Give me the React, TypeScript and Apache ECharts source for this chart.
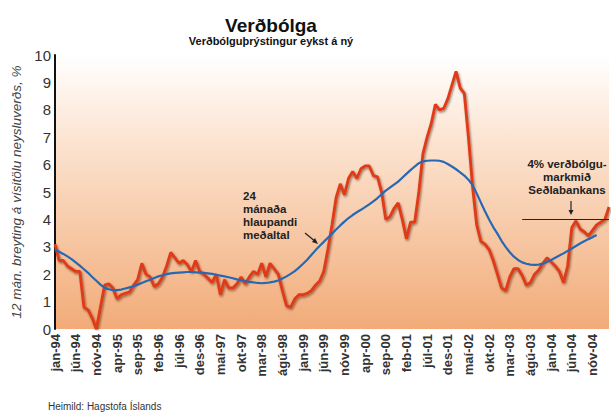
import React, { useEffect, useRef } from "react";
import * as echarts from "echarts";

const monthNames = ["jan", "feb", "mar", "apr", "maí", "jún", "júl", "ágú", "sep", "okt", "nóv", "des"];
const years = ["94", "95", "96", "97", "98", "99", "00", "01", "02", "03", "04", "05"];
const monthCount = 135; // jan-94 .. mar-05

const categories: string[] = [];
for (let i = 0; i < monthCount; i++) {
  categories.push(monthNames[i % 12] + "-" + years[Math.floor(i / 12)]);
}

// 12 month change in CPI, %
const inflation = [
  3.1, 2.5, 2.5, 2.3, 2.2, 2.1, 2.1, 0.8, 0.7, 0.4, 0.0, 0.8,
  1.6, 1.65, 1.5, 1.1, 1.25, 1.3, 1.35, 1.6, 1.8, 2.4, 2.0, 1.9,
  1.55, 1.65, 1.9, 2.3, 2.8, 2.6, 2.4, 2.5, 2.35, 2.1, 2.5, 2.1,
  2.0, 1.85, 1.7, 2.0, 1.25, 1.8, 1.5, 1.5, 1.65, 1.9, 1.65, 1.9,
  2.1, 2.0, 2.4, 1.9, 2.4, 2.2, 2.0, 1.4, 0.85, 0.8, 1.1, 1.25,
  1.25, 1.3, 1.4, 1.6, 1.75, 2.1, 2.9, 3.8, 4.8, 5.3, 4.9, 5.5,
  5.75, 5.5, 5.85, 5.95, 5.95, 5.6, 5.55, 5.0, 4.0, 4.1, 4.4, 4.6,
  4.0, 3.3, 3.9, 3.9, 5.0, 6.4, 7.0, 7.5, 8.2, 8.0, 8.05, 8.4,
  8.9, 9.4, 8.8, 8.6, 7.0, 5.2, 3.8, 3.2, 3.1, 2.9, 2.5, 2.0,
  1.5, 1.4, 1.9, 2.2, 2.2, 1.95, 1.6, 1.7, 2.0, 2.15, 2.4, 2.6,
  2.45, 2.3, 2.1, 1.7, 2.3, 3.7, 3.95, 3.65, 3.55, 3.4, 3.6, 3.8,
  3.9, 4.0, 4.45,
];

// 24 month running average
const runningAvg = [
  2.9, 2.82, 2.74, 2.65, 2.55, 2.43, 2.31, 2.18, 2.05, 1.9, 1.76, 1.62,
  1.5, 1.45, 1.42, 1.42, 1.44, 1.48, 1.52, 1.56, 1.62, 1.68, 1.74, 1.8,
  1.86, 1.92, 1.96, 2.0, 2.03, 2.05, 2.06, 2.07, 2.08, 2.08, 2.07, 2.06,
  2.05, 2.03, 2.01, 1.98, 1.95, 1.92, 1.89, 1.85, 1.81, 1.78, 1.75, 1.72,
  1.7, 1.68, 1.67, 1.68, 1.7, 1.73, 1.77, 1.84, 1.92, 2.01, 2.11, 2.24,
  2.38, 2.53, 2.7, 2.87, 3.03, 3.18, 3.33, 3.48, 3.63, 3.78, 3.92, 4.05,
  4.16, 4.26, 4.35, 4.45, 4.55, 4.66, 4.78, 4.92, 5.05, 5.16, 5.27, 5.38,
  5.52, 5.66, 5.8, 5.93, 6.05, 6.12, 6.14, 6.15, 6.15, 6.14, 6.1, 6.02,
  5.93, 5.83, 5.72, 5.6, 5.45, 5.25, 4.95, 4.62, 4.3, 4.0, 3.72, 3.48,
  3.22, 3.0, 2.8, 2.64, 2.52, 2.43, 2.38, 2.35, 2.34, 2.35, 2.39, 2.45,
  2.52, 2.6, 2.68, 2.76, 2.85, 2.94, 3.03, 3.12, 3.2, 3.28, 3.35, 3.43,
];

const yTicks = [0, 1, 2, 3, 4, 5, 6, 7, 8, 9, 10];
const targetValue = 4;
const targetStart = "jún-03";

export default function App() {
  const ref = useRef<HTMLDivElement>(null);
  useEffect(() => {
    if (!ref.current) return;
    const chart = echarts.init(ref.current, null, { renderer: "svg" });
    const font = "Liberation Sans, Arial, sans-serif";
    chart.setOption({
      animation: false,
      textStyle: { fontFamily: font },
      title: {
        text: "Verðbólga",
        subtext: "Verðbólguþrýstingur eykst á ný",
        left: 266,
        top: 11,
        textAlign: "center",
        itemGap: 0,
        textStyle: { fontSize: 19, fontWeight: "bold", color: "#111", fontFamily: font },
        subtextStyle: { fontSize: 11, fontWeight: "bold", color: "#111", fontFamily: font },
      },
      grid: {
        left: 55,
        right: 4,
        top: 55,
        bottom: 85,
        show: true,
        borderWidth: 0,
        backgroundColor: new echarts.graphic.LinearGradient(0, 0, 0, 1, [
          { offset: 0, color: "#ffffff" },
          { offset: 0.3, color: "#fce5d3" },
          { offset: 1, color: "#f2ab78" },
        ]),
      },
      xAxis: {
        type: "category",
        data: categories,
        boundaryGap: false,
        axisLine: { lineStyle: { color: "#111", width: 2, shadowColor: "rgba(0,0,0,0.4)", shadowBlur: 2, shadowOffsetY: 1 } },
        axisTick: { show: false },
        axisLabel: {
          interval: 4,
          rotate: 90,
          margin: 5,
          fontSize: 13,
          fontWeight: "bold",
          color: "#333",
          fontFamily: font,
        },
        splitLine: { show: false },
      },
      yAxis: {
        type: "value",
        min: 0,
        max: 10,
        interval: 1,
        name: "12 mán. breyting á vísitölu neysluverðs, %",
        nameLocation: "middle",
        nameRotate: 90,
        nameGap: 30,
        nameTextStyle: { fontStyle: "italic", fontSize: 13.5, color: "#444", fontFamily: font },
        axisLine: { show: true, lineStyle: { color: "#111", width: 2 } },
        axisTick: { show: false },
        axisLabel: {
          fontSize: 15,
          color: "#333",
          margin: 4,
          fontFamily: font,
          formatter: (v: number) => (yTicks.indexOf(v) >= 0 ? String(v) : ""),
        },
        splitLine: { show: false },
      },
      series: [
        {
          type: "line",
          data: inflation,
          symbol: "none",
          z: 3,
          lineStyle: {
            color: "#e03a18",
            width: 2.8,
            shadowColor: "rgba(60,20,0,0.55)",
            shadowBlur: 2,
            shadowOffsetX: 1,
            shadowOffsetY: 1.5,
          },
          markLine: {
            silent: true,
            symbol: "none",
            label: { show: false },
            lineStyle: { color: "#222", width: 1, type: "solid" },
            data: [[{ coord: [targetStart, targetValue] }, { coord: [categories[monthCount - 1], targetValue] }]],
          },
        },
        {
          type: "line",
          data: runningAvg,
          symbol: "none",
          z: 4,
          lineStyle: { color: "#2768b3", width: 2.2 },
        },
      ],
      graphic: [
        {
          type: "text",
          x: 243,
          y: 189,
          style: {
            text: "24\nmánaða\nhlaupandi\nmeðaltal",
            fontSize: 11.5,
            fontWeight: "bold",
            lineHeight: 13,
            fill: "#222",
            fontFamily: font,
          },
        },
        { type: "line", shape: { x1: 305, y1: 233, x2: 316, y2: 242 }, style: { stroke: "#222", lineWidth: 1.2 } },
        { type: "polygon", shape: { points: [[318, 244], [312, 242], [315, 238]] }, style: { fill: "#222" } },
        {
          type: "text",
          x: 567,
          y: 157,
          style: {
            text: "4% verðbólgu-\nmarkmið\nSeðlabankans",
            fontSize: 11.5,
            fontWeight: "bold",
            lineHeight: 13,
            align: "center",
            verticalAlign: "top",
            fill: "#222",
            fontFamily: font,
          },
        },
        { type: "line", shape: { x1: 571, y1: 201, x2: 571, y2: 211 }, style: { stroke: "#222", lineWidth: 1.2 } },
        { type: "polygon", shape: { points: [[568.5, 210], [573.5, 210], [571, 215]] }, style: { fill: "#222" } },
        {
          type: "text",
          x: 48,
          y: 401,
          style: { text: "Heimild: Hagstofa Íslands", fontSize: 10, fill: "#333", fontFamily: font },
        },
      ],
    });
    return () => chart.dispose();
  }, []);
  return <div ref={ref} style={{ width: 613, height: 414, position: "absolute", left: 0, top: 0 }} />;
}
